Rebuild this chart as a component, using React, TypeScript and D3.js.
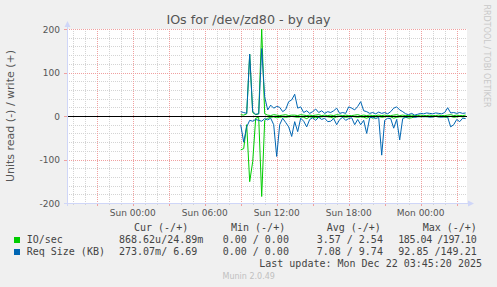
import React from 'react';
import * as d3 from 'd3';

const title = 'IOs for /dev/zd80 - by day';
const yLabel = 'Units read (-) / write (+)';
const sideLabel = 'RRDTOOL / TOBI OETIKER';
const yTicks = [-200, -100, 0, 100, 200];
const xTickHours = [0, 6, 12, 18, 24];
const xTickLabels = ['Sun 00:00', 'Sun 06:00', 'Sun 12:00', 'Sun 18:00', 'Mon 00:00'];

// samples every 15 minutes starting Sun 09:00
const dataStartHour = 9;
const stepHours = 0.25;
const ioWrite = [3, 2, 5, 142, 8, 3, 5, 200, 5, 2, 1, 3, 2, 1, 2, 3, 1, 2, 2, 1, 3, 2, 1, 2, 1, 2, 3, 1, 2, 1, 2, 1, 3, 2, 1, 2, 1, 1, 2, 3, 1, 2, 1, 2, 1, 1, 2, 1, 2, 1, 1, 2, 3, 1, 2, 1, 1, 2, 1, 1, 2, 1, 1, 2, 1, 1, 2, 1, 1, 2, 3, 1, 2, 1, 1, 2];
const ioRead = [78, 75, 20, 151, 105, 5, 3, 185, 10, 5, 3, 2, 4, 3, 2, 3, 2, 1, 2, 3, 2, 3, 6, 2, 3, 4, 3, 2, 1, 2, 3, 5, 2, 1, 2, 3, 2, 1, 2, 3, 2, 3, 5, 2, 5, 2, 1, 3, 2, 1, 2, 5, 3, 2, 2, 3, 5, 4, 2, 1, 2, 1, 2, 1, 2, 1, 2, 1, 3, 2, 1, 3, 2, 1, 2, 1];
const reqWrite = [10, 8, 6, 142, 10, 4, 5, 155, 44, 14, 25, 18, 22, 20, 10, 15, 33, 37, 50, 18, 21, 8, 12, 6, 10, 16, 8, 12, 6, 10, 8, 12, 18, 6, 8, 6, 21, 18, 14, 22, 33, 12, 10, 6, 8, 5, 9, 6, 8, 5, 10, 18, 21, 14, 10, 5, 3, 6, 2, 4, 6, 5, 7, 6, 5, 7, 6, 5, 8, 19, 7, 8, 6, 8, 6, 7];
const reqRead = [20, 60, 25, 10, 12, 8, 10, 12, 6, 9, 5, 20, 93, 20, 5, 15, 25, 47, 13, 36, 5, 12, 25, 8, 4, 10, 3, 8, 5, 13, 12, 6, 20, 8, 3, 10, 6, 4, 20, 8, 20, 10, 40, 4, 3, 6, 3, 90, 10, 5, 6, 28, 8, 55, 6, 3, 2, 1, 3, 2, 1, 2, 1, 3, 2, 1, 2, 3, 1, 3, 25, 20, 8, 13, 5, 6];

const seriesNames = ['IO/sec', 'Req Size (KB)'];
const seriesColors = ['#00cc00', '#0066b3'];
const legendHeaders = ['Cur (-/+)', 'Min (-/+)', 'Avg (-/+)', 'Max (-/+)'];
const curValues = ['868.62u/24.89m', '273.07m/ 6.69'];
const minValues = ['0.00 / 0.00', '0.00 / 0.00'];
const avgValues = ['3.57 / 2.54', '7.08 / 9.74'];
const maxValues = ['185.04 /197.10', ' 92.85 /149.21'];
const lastUpdate = 'Last update: Mon Dec 22 03:45:20 2025';
const footer = 'Munin 2.0.49';

const W = 497;
const H = 287;
const plotL = 67;
const plotR = 467;
const plotT = 29;
const plotB = 203;
const hourAt0 = 132.7;
const pxPerHour = 12;
const hStart = -(hourAt0 - plotL) / pxPerHour;
const hEnd = hStart + (plotR - plotL) / pxPerHour;

const SANS = "'DejaVu Sans', Verdana, sans-serif";
const MONO = "'DejaVu Sans Mono', monospace";
const AXIS = '#CFD6F8';
const GRID = '#d4d4d4';
const MGRID = '#f0a0a0';
const FONT = '#555555';

export default function App() {
  const x = d3.scaleLinear().domain([hStart, hEnd]).range([plotL, plotR]);
  const y = d3.scaleLinear().domain([-200, 200]).range([plotB, plotT]);
  const px = (v: number) => Math.round(v) + 0.5;

  const minorX: number[] = [];
  const majorX: number[] = [];
  for (let h = Math.ceil(hStart); h <= hEnd; h++) {
    if (h % 3 === 0) majorX.push(h);
    else minorX.push(h);
  }
  const minorY: number[] = [];
  for (let v = -180; v <= 180; v += 20) if (v % 100 !== 0) minorY.push(v);
  const majorY = yTicks.filter((v) => v !== -200);

  const hours = ioWrite.map((_, i) => dataStartHour + i * stepHours);
  const mk = (vals: number[], sign: number) =>
    d3
      .line<number>()
      .x((_, i) => x(hours[i]))
      .y((v) => y(sign * v))(vals) || '';

  const paths = [
    { d: mk(ioRead, -1), c: seriesColors[0] },
    { d: mk(ioWrite, 1), c: seriesColors[0] },
    { d: mk(reqRead, -1), c: seriesColors[1] },
    { d: mk(reqWrite, 1), c: seriesColors[1] },
  ];

  const maxX = 398.3;
  const maxEnd = 476.7;

  return (
    <svg
      width={W}
      height={H}
      style={{ position: 'absolute', left: 0, top: 0, display: 'block' }}
      xmlns="http://www.w3.org/2000/svg"
    >
      <rect x={0} y={0} width={W} height={H} fill="#f0f0f0" />
      <rect x={plotL} y={plotT} width={plotR - plotL} height={plotB - plotT} fill="#ffffff" />

      {minorX.map((h) => (
        <line key={'mx' + h} x1={px(x(h))} x2={px(x(h))} y1={plotT} y2={plotB} stroke={GRID} strokeDasharray="1,1" />
      ))}
      {minorY.map((v) => (
        <line key={'my' + v} x1={plotL} x2={plotR} y1={px(y(v))} y2={px(y(v))} stroke={GRID} strokeDasharray="1,1" />
      ))}
      {majorX.map((h) => (
        <line key={'Mx' + h} x1={px(x(h))} x2={px(x(h))} y1={plotT} y2={plotB} stroke={MGRID} strokeDasharray="1,1" />
      ))}
      {majorY.map((v) => (
        <line key={'My' + v} x1={plotL} x2={plotR} y1={px(y(v))} y2={px(y(v))} stroke={MGRID} strokeDasharray="1,1" />
      ))}
      {majorX.map((h) => (
        <line key={'tx' + h} x1={px(x(h))} x2={px(x(h))} y1={plotB} y2={plotB + 3} stroke={MGRID} />
      ))}
      {minorX.map((h) => (
        <line key={'tmx' + h} x1={px(x(h))} x2={px(x(h))} y1={plotB} y2={plotB + 2} stroke={GRID} />
      ))}
      {yTicks.map((v) => (
        <line key={'ty' + v} x1={plotL - 3} x2={plotL} y1={px(y(v))} y2={px(y(v))} stroke={MGRID} />
      ))}

      {paths.map((p, i) => (
        <path key={'p' + i} d={p.d} fill="none" stroke={p.c} strokeWidth={1} />
      ))}
      <line x1={plotL} x2={plotR} y1={px(y(0))} y2={px(y(0))} stroke="#000000" />

      <line x1={plotL - 3} x2={plotR + 3} y1={px(plotB)} y2={px(plotB)} stroke={AXIS} />
      <line x1={px(plotL)} x2={px(plotL)} y1={plotB + 3} y2={plotT - 3} stroke={AXIS} />
      <path d={`M${plotL + 0.5},${plotT - 8} L${plotL - 2.5},${plotT - 2} L${plotL + 3.5},${plotT - 2} Z`} fill={AXIS} />
      <path d={`M${plotR + 7},${plotB + 0.5} L${plotR + 1},${plotB - 2.5} L${plotR + 1},${plotB + 3.5} Z`} fill={AXIS} />

      {yTicks.map((v) => (
        <text key={'yl' + v} x={60} y={y(v) + 3.5} textAnchor="end" fontFamily={SANS} fontSize={9} fill={FONT}>
          {v}
        </text>
      ))}
      {xTickHours.map((h, i) => (
        <text key={'xl' + h} x={x(h)} y={216} textAnchor="middle" fontFamily={SANS} fontSize={9} fill={FONT}>
          {xTickLabels[i]}
        </text>
      ))}

      <text x={248.5} y={24} textAnchor="middle" fontFamily={SANS} fontSize={12.7} fill={FONT}>
        {title}
      </text>
      <text
        transform={`translate(14, ${(plotT + plotB) / 2}) rotate(-90)`}
        textAnchor="middle"
        fontFamily={SANS}
        fontSize={11}
        fill={FONT}
      >
        {yLabel}
      </text>
      <text
        transform={`translate(483.5, 56) rotate(90)`}
        textAnchor="middle"
        fontFamily={SANS}
        fontSize={8}
        fill="#c8c8c8"
      >
        {sideLabel}
      </text>

      <g fontFamily={MONO} fontSize={10} fill="#444" style={{ whiteSpace: 'pre' }}>
        <text x={134} y={231}>{legendHeaders[0]}</text>
        <text x={231} y={231}>{legendHeaders[1]}</text>
        <text x={326.7} y={231}>{legendHeaders[2]}</text>
        <text x={422.7} y={231}>{legendHeaders[3]}</text>
        {seriesNames.map((n, i) => {
          const by = 243 + i * 12;
          return (
            <g key={'lg' + i}>
              <rect x={14} y={by - 6} width={6} height={6} fill={seriesColors[i]} />
              <text x={26.7} y={by}>{n}</text>
              <text x={119} y={by}>{curValues[i]}</text>
              <text x={222.7} y={by}>{minValues[i]}</text>
              <text x={316.7} y={by}>{avgValues[i]}</text>
              <text x={maxX} y={by} textLength={maxEnd - maxX} lengthAdjust="spacing">
                {maxValues[i]}
              </text>
            </g>
          );
        })}
        <text x={482} y={267} textAnchor="end">{lastUpdate}</text>
      </g>
      <text x={248.7} y={279} textAnchor="middle" fontFamily={SANS} fontSize={8} fill="#c0c0c0">
        {footer}
      </text>
    </svg>
  );
}
